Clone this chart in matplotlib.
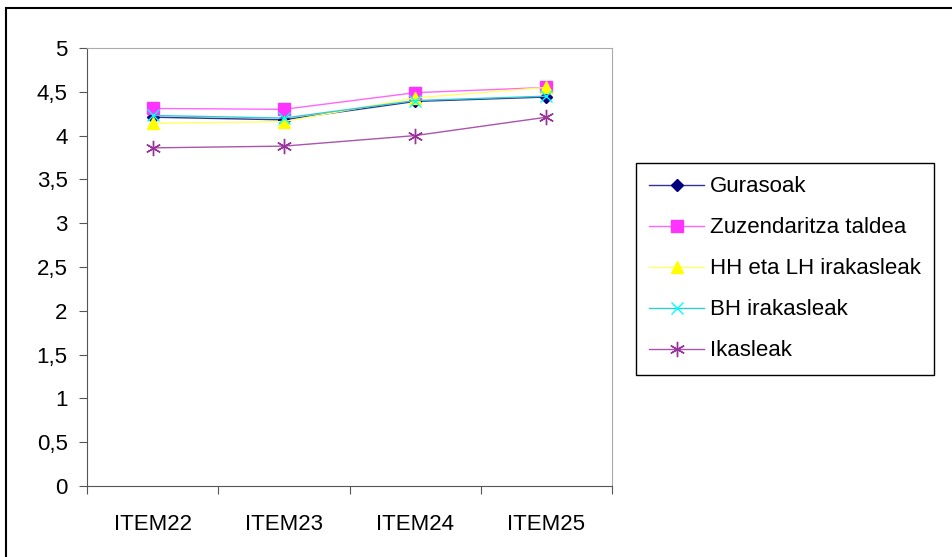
import matplotlib
matplotlib.use('Agg')
import matplotlib.pyplot as plt
from matplotlib.patches import Rectangle

plt.rcParams['font.family'] = ['Liberation Sans', 'DejaVu Sans']

items = ['ITEM22', 'ITEM23', 'ITEM24', 'ITEM25']
gurasoak = [4.21, 4.18, 4.39, 4.44]
zuzendaritza = [4.31, 4.30, 4.49, 4.55]
hh_lh = [4.14, 4.16, 4.43, 4.55]
bh = [4.23, 4.20, 4.40, 4.45]
ikasleak = [3.86, 3.88, 4.00, 4.21]
yticks = [0, 0.5, 1, 1.5, 2, 2.5, 3, 3.5, 4, 4.5, 5]

fs = 16

fig = plt.figure(figsize=(9.52, 5.57), dpi=100)
ax = fig.add_axes([87/952, 1 - 486/557, 525/952, 438/557])

x = range(len(items))
ax.plot(x, gurasoak, color='#333399', lw=1, marker='D', ms=6,
        mfc='#000080', mec='#000080', label='Gurasoak')
ax.plot(x, zuzendaritza, color='#FF66FF', lw=1, marker='s', ms=8,
        mfc='#FF33FF', mec='#FF33FF', label='Zuzendaritza taldea')
ax.plot(x, hh_lh, color='#FFFF66', lw=1, marker='^', ms=9,
        mfc='#FFFF00', mec='#FFFF00', label='HH eta LH irakasleak')
ax.plot(x, bh, color='#33CCCC', lw=1, marker='x', ms=8, mew=1,
        mec='#00FFFF', label='BH irakasleak')
ax.plot(x, ikasleak, color='#AA55AA', lw=1, marker=(6, 2, 0), ms=11, mew=1,
        mec='#993399', label='Ikasleak')

ax.set_xlim(-0.5, 3.5)
ax.set_ylim(0, 5)
ax.set_yticks(yticks)
ax.set_yticklabels([('%g' % v).replace('.', ',') for v in yticks], fontsize=fs)
ax.set_xticks([-0.5, 0.5, 1.5, 2.5, 3.5])
ax.set_xticklabels([])
ax.set_xticks(list(x), minor=True)
ax.set_xticklabels(items, minor=True, fontsize=fs)
ax.tick_params(axis='x', which='minor', length=0, pad=20)
ax.tick_params(axis='x', which='major', length=6, direction='out', color='#555555')
ax.tick_params(axis='y', length=6, direction='out', color='#555555', pad=8)

for s in ['left', 'bottom']:
    ax.spines[s].set_color('#555555')
for s in ['top', 'right']:
    ax.spines[s].set_color('#AAAAAA')

fig.legend(loc='upper left', bbox_to_anchor=(636/952, 1 - 163/557),
           fontsize=fs, frameon=True, fancybox=False, edgecolor='black',
           framealpha=1, handlelength=2.45, handletextpad=0.27,
           labelspacing=0.9, borderpad=0.6, borderaxespad=0)

fig.patches.append(Rectangle((6/952, -0.05), 1.1, 1 - 8/557 + 0.05,
                             transform=fig.transFigure, fill=False,
                             edgecolor='black', lw=1.5))

fig.savefig('out.png', dpi=100)
